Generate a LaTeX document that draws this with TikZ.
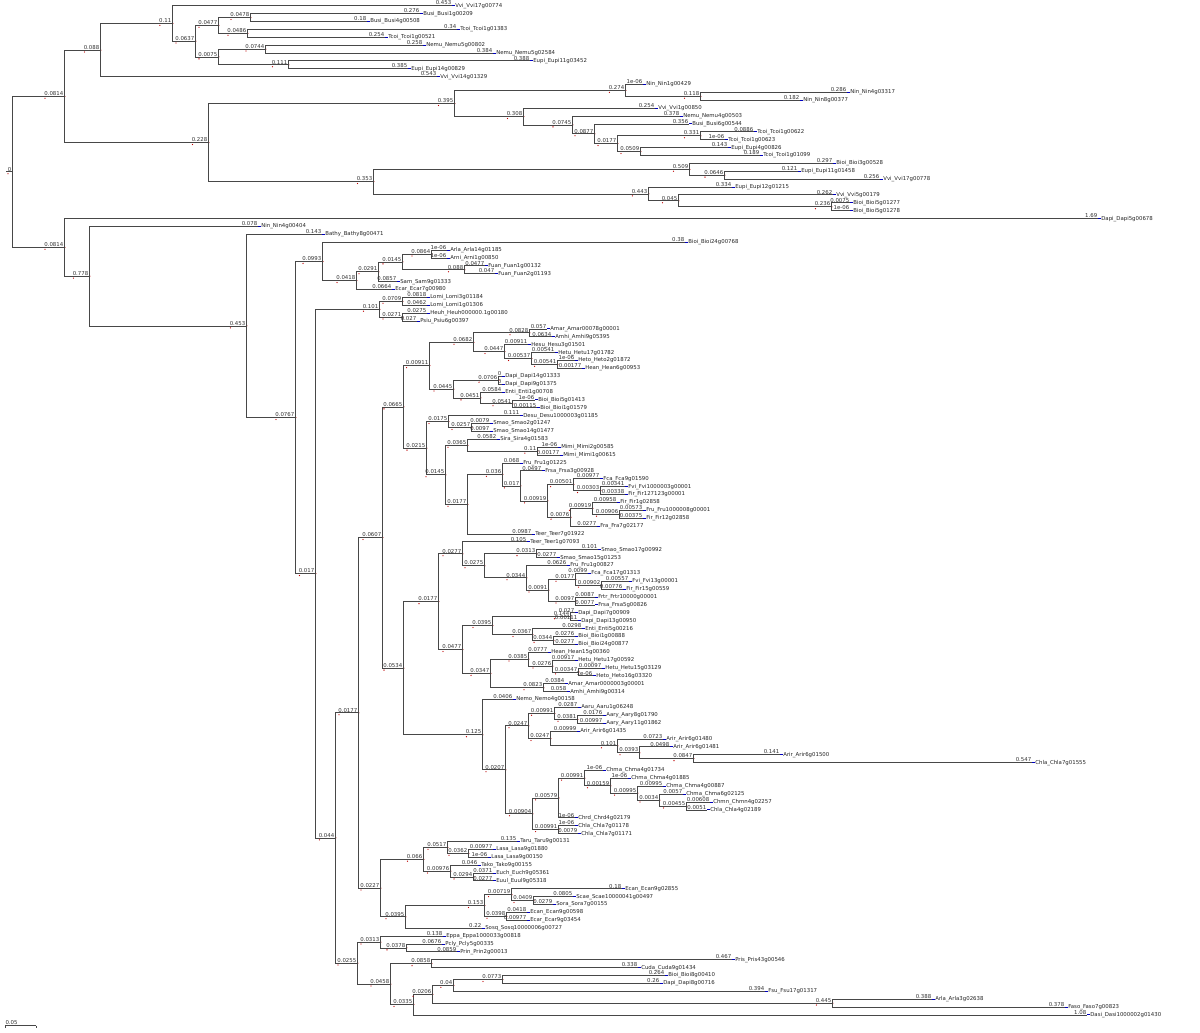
\documentclass[tikz,border=0pt]{standalone}
\usepackage{fontspec}
\newfontfamily\treefont{DejaVu Sans}
\usepackage{tikz}

\tikzset{
  br/.style={draw=black!72, line width=0.9pt},
  val/.style={anchor=south east, inner sep=0.3pt, text=black!80, font=\treefont\fontsize{5.4}{6}\selectfont},
  taxon/.style={anchor=west, inner sep=0.3pt, text=black!85, font=\treefont\fontsize{5.4}{6}\selectfont},
  redtick/.style={fill=red!75!black},
  bluetick/.style={draw=blue!75!black, line width=1pt},
}

% inner node: name, parent, x, row, support
\newcommand\clade[5]{%
  \coordinate (#1) at (#3,#4);
  \draw[br] (#2) |- (#1) node[val] (#1l) {#5};
  \fill[redtick] ([xshift=1.4pt,yshift=-1.9pt]#1l.south west) circle (0.65pt);
  \fill[redtick] ([xshift=0.9pt]#1) circle (0.6pt);
}
% tip: name, parent, x, row, length, taxon
\newcommand\leaf[6]{%
  \coordinate (#1) at (#3,#4);
  \draw[br] (#2) |- (#1) node[val] (#1l) {#5};
  \draw[bluetick] (#1) -- ++(2.5pt,0) node[taxon] (#1t) {#6};
}

\begin{document}
\begin{tikzpicture}[x=1pt, y=-7.885pt]
\fill[white] (0,-0.7229) rectangle (1200,130.16);
\useasboundingbox (0,-0.7229) rectangle (1200,130.16);

% root
\coordinate (rootin) at (6,21.07);
\coordinate (root) at (12,21.07);
\draw[br] (rootin) -- (root) node[val] (rootl) {0};
\fill[redtick] ([xshift=1pt,yshift=-1.9pt]rootl.south west) circle (0.65pt);

% upper block
\clade{R1}{root}{64}{11.49}{0.0814}
\clade{E}{R1}{100}{5.625}{0.088}
\clade{A}{E}{172}{2.25}{0.11}
\leaf{t0}{A}{452}{0}{0.453}{Vvi\_Vvi17g00774}
\clade{B}{A}{195}{4.5}{0.0637}
\clade{C}{B}{218}{2.5}{0.0477}
\clade{C1}{C}{250}{1.5}{0.0478}
\leaf{t1}{C1}{420}{1}{0.276}{Busi\_Busi1g00209}
\leaf{t2}{C1}{367}{2}{0.18}{Busi\_Busi4g00508}
\clade{C2}{C}{247}{3.5}{0.0486}
\leaf{t3}{C2}{457}{3}{0.34}{Tcoi\_Tcoi1g01383}
\leaf{t4}{C2}{385}{4}{0.254}{Tcoi\_Tcoi1g00521}
\clade{D}{B}{218}{6.5}{0.0075}
\clade{D1}{D}{265}{5.5}{0.0744}
\leaf{t5}{D1}{423}{5}{0.258}{Nemu\_Nemu5g00802}
\leaf{t6}{D1}{493}{6}{0.384}{Nemu\_Nemu5g02584}
\clade{D2}{D}{288}{7.5}{0.111}
\leaf{t7}{D2}{530}{7}{0.388}{Eupi\_Eupi11g03452}
\leaf{t8}{D2}{408}{8}{0.385}{Eupi\_Eupi14g00829}
\leaf{t9}{E}{437}{9}{0.543}{Vvi\_Vvi14g01329}

\clade{F}{R1}{208}{17.36}{0.228}
\clade{S}{F}{454}{12.41}{0.395}
\clade{R}{S}{625}{10.75}{0.274}
\leaf{t10}{R}{643}{10}{1e-06}{Nin\_Nin1g00429}
\clade{Q}{R}{700}{11.5}{0.118}
\leaf{t11}{Q}{847}{11}{0.286}{Nin\_Nin4g03317}
\leaf{t12}{Q}{800}{12}{0.182}{Nin\_Nin8g00377}
\clade{T}{S}{523}{14.06}{0.308}
\leaf{t13}{T}{655}{13}{0.254}{Vvi\_Vvi1g00850}
\clade{U}{T}{572}{15.125}{0.0745}
\leaf{t14}{U}{680}{14}{0.378}{Nemu\_Nemu4g00503}
\clade{V}{U}{594}{16.25}{0.0877}
\leaf{t15}{V}{689}{15}{0.356}{Busi\_Busi6g00544}
\clade{W}{V}{617}{17.5}{0.0177}
\clade{X}{W}{700}{16.5}{0.331}
\leaf{t16}{X}{754}{16}{0.0886}{Tcoi\_Tcoi1g00622}
\leaf{t17}{X}{725}{17}{1e-06}{Tcoi\_Tcoi1g00623}
\clade{Y}{W}{640}{18.5}{0.0509}
\leaf{t18}{Y}{728}{18}{0.143}{Eupi\_Eupi4g00826}
\leaf{t19}{Y}{760}{19}{0.189}{Tcoi\_Tcoi1g01099}
\clade{G}{F}{373}{22.31}{0.353}
\clade{Z}{G}{689}{20.75}{0.509}
\leaf{t20}{Z}{833}{20}{0.297}{Bioi\_Bioi3g00528}
\clade{AA}{Z}{724}{21.5}{0.0646}
\leaf{t21}{AA}{798}{21}{0.121}{Eupi\_Eupi11g01458}
\leaf{t22}{AA}{880}{22}{0.256}{Vvi\_Vvi17g00778}
\clade{AB}{G}{648}{23.875}{0.443}
\leaf{t23}{AB}{732}{23}{0.334}{Eupi\_Eupi12g01215}
\clade{AC}{AB}{678}{24.75}{0.045}
\leaf{t24}{AC}{833}{24}{0.262}{Vvi\_Vvi5g00179}
\clade{AD}{AC}{831}{25.5}{0.236}
\leaf{t25}{AD}{850}{25}{0.0075}{Bioi\_Bioi5g01277}
\leaf{t26}{AD}{850}{26}{1e-06}{Bioi\_Bioi5g01278}

% lower block
\clade{H}{root}{64}{30.65}{0.0814}
\leaf{t27}{H}{1098}{27}{1.69}{Dapi\_Dapi5g00678}
\clade{I}{H}{89}{34.31}{0.778}
\leaf{t28}{I}{258}{28}{0.078}{Nin\_Nin4g00404}
\clade{J}{I}{246}{40.62}{0.453}
\leaf{t29}{J}{322}{29}{0.143}{Bathy\_Bathy8g00471}
\clade{K}{J}{295}{52.23}{0.0767}
\clade{L}{K}{322}{32.44}{0.0993}
\leaf{t30}{L}{685}{30}{0.38}{Bioi\_Bioi24g00768}
\clade{N}{L}{356}{34.875}{0.0418}
\clade{O}{N}{378}{33.75}{0.0291}
\clade{P}{O}{402}{32.5}{0.0145}
\clade{PA}{P}{431}{31.5}{0.0864}
\leaf{t31}{PA}{447}{31}{1e-06}{Arla\_Arla14g01185}
\leaf{t32}{PA}{447}{32}{1e-06}{Arni\_Arni1g00850}
\clade{PB}{P}{464}{33.5}{0.088}
\leaf{t33}{PB}{485}{33}{0.0477}{Fuan\_Fuan1g00132}
\leaf{t34}{PB}{495}{34}{0.047}{Fuan\_Fuan2g01193}
\leaf{t35}{O}{397}{35}{0.0857}{Sam\_Sam9g01333}
\leaf{t36}{N}{392}{36}{0.0664}{Ecar\_Ecar7g00980}
\clade{M}{K}{315}{72.03}{0.017}
\clade{MA}{M}{379}{38.5}{0.101}
\clade{MA1}{MA}{402}{37.5}{0.0709}
\leaf{t37}{MA1}{427}{37}{0.0818}{Lomi\_Lomi3g01184}
\leaf{t38}{MA1}{427}{38}{0.0462}{Lomi\_Lomi1g01306}
\clade{MA2}{MA}{402}{39.5}{0.0271}
\leaf{t39}{MA2}{427}{39}{0.0275}{Heuh\_Heuh000000.1g00180}
\leaf{t40}{MA2}{417}{40}{0.027}{Psiu\_Psiu6g00397}
\clade{MB}{M}{335}{105.55}{0.044}
\clade{MBa}{MB}{358}{89.68}{0.0177}
\clade{Y1}{MBa}{382}{67.46}{0.0607}
\clade{X1}{Y1}{403}{50.89}{0.0665}
\clade{X1a}{X1}{429}{45.66}{0.00911}
\clade{a1}{X1a}{473}{42.69}{0.0682}
\clade{a11}{a1}{529}{41.5}{0.0828}
\leaf{t41}{a11}{547}{41}{0.057}{Amar\_Amar00078g00001}
\leaf{t42}{a11}{552}{42}{0.0634}{Amhi\_Amhi9g05395}
\clade{a12}{a1}{504}{43.875}{0.0447}
\leaf{t43}{a12}{528}{43}{0.00911}{Hesu\_Hesu3g01501}
\clade{a13}{a12}{531}{44.75}{0.00537}
\leaf{t44}{a13}{555}{44}{0.00541}{Hetu\_Hetu17g01782}
\clade{a14}{a13}{557}{45.5}{0.00541}
\leaf{t45}{a14}{575}{45}{1e-06}{Heto\_Heto2g01872}
\leaf{t46}{a14}{582}{46}{0.00177}{Hean\_Hean6g00953}
\clade{a2}{X1a}{453}{48.625}{0.0445}
\clade{a21}{a2}{498}{47.5}{0.0706}
\leaf{t47}{a21}{502}{47}{0}{Dapi\_Dapi14g01333}
\leaf{t48}{a21}{502}{48}{0}{Dapi\_Dapi9g01375}
\clade{a22}{a2}{480}{49.75}{0.0451}
\leaf{t49}{a22}{502}{49}{0.0584}{Enti\_Enti1g00708}
\clade{a23}{a22}{512}{50.5}{0.0541}
\leaf{t50}{a23}{535}{50}{1e-06}{Bioi\_Bioi5g01413}
\leaf{t51}{a23}{537}{51}{0.00115}{Bioi\_Bioi1g01579}
\clade{X1b}{X1}{426}{56.12}{0.0215}
\clade{b1}{X1b}{448}{52.75}{0.0175}
\leaf{t52}{b1}{520}{52}{0.111}{Desu\_Desu1000003g01185}
\clade{b11}{b1}{471}{53.5}{0.0257}
\leaf{t53}{b11}{490}{53}{0.0079}{Smao\_Smao2g01247}
\leaf{t54}{b11}{490}{54}{0.0097}{Smao\_Smao14g01477}
\clade{b2}{X1b}{445}{59.49}{0.0145}
\clade{b21}{b2}{467}{55.75}{0.0365}
\leaf{t55}{b21}{497}{55}{0.0582}{Sira\_Sira4g01583}
\clade{b22}{b21}{537}{56.5}{0.11}
\leaf{t56}{b22}{558}{56}{1e-06}{Mimi\_Mimi2g00585}
\leaf{t57}{b22}{560}{57}{0.00177}{Mimi\_Mimi1g00615}
\clade{b3}{b2}{467}{63.23}{0.0177}
\clade{b31}{b3}{502}{59.45}{0.036}
\leaf{t58}{b31}{520}{58}{0.068}{Fru\_Fru1g01225}
\clade{b32}{b31}{520}{60.91}{0.017}
\leaf{t59}{b32}{542}{59}{0.0497}{Frsa\_Frsa3g00928}
\clade{b33}{b32}{547}{62.81}{0.00919}
\clade{b34}{b33}{573}{60.75}{0.00501}
\leaf{t60}{b34}{600}{60}{0.00977}{Fca\_Fca9g01590}
\clade{b35}{b34}{600}{61.5}{0.00303}
\leaf{t61}{b35}{625}{61}{0.00341}{Fvi\_Fvi1000003g00001}
\leaf{t62}{b35}{625}{62}{0.00338}{Fir\_Fir127123g00001}
\clade{b36}{b33}{570}{64.875}{0.0076}
\clade{b37}{b36}{592}{63.75}{0.00919}
\leaf{t63}{b37}{617}{63}{0.00958}{Fir\_Fir1g02858}
\clade{b38}{b37}{619}{64.5}{0.00906}
\leaf{t64}{b38}{643}{64}{0.00573}{Fru\_Fru1000008g00001}
\leaf{t65}{b38}{643}{65}{0.00375}{Fir\_Fir12g02858}
\leaf{t66}{b36}{597}{66}{0.0277}{Fra\_Fra7g02177}
\leaf{t67}{b3}{532}{67}{0.0987}{Teer\_Teer7g01922}
\clade{X2}{Y1}{403}{84.02}{0.0534}
\clade{X2a}{X2}{438}{75.59}{0.0177}
\clade{c1}{X2a}{462}{69.52}{0.0277}
\leaf{t68}{c1}{527}{68}{0.105}{Teer\_Teer1g07093}
\clade{c11}{c1}{484}{71.03}{0.0275}
\clade{c12}{c11}{536}{69.5}{0.0313}
\leaf{t69}{c12}{598}{69}{0.101}{Smao\_Smao17g00992}
\leaf{t70}{c12}{557}{70}{0.0277}{Smao\_Smao15g01253}
\clade{c13}{c11}{526}{72.56}{0.0344}
\leaf{t71}{c13}{567}{71}{0.0626}{Fru\_Fru1g00827}
\clade{c14}{c13}{548}{74.125}{0.0091}
\clade{c15}{c14}{575}{72.75}{0.0177}
\leaf{t72}{c15}{588}{72}{0.0099}{Fca\_Fca17g01313}
\clade{c16}{c15}{601}{73.5}{0.00902}
\leaf{t73}{c16}{629}{73}{0.00557}{Fvi\_Fvi13g00001}
\leaf{t74}{c16}{623}{74}{0.00776}{Fir\_Fir15g00559}
\clade{c17}{c14}{575}{75.5}{0.0097}
\leaf{t75}{c17}{595}{75}{0.0087}{Frtr\_Frtr10000g00001}
\leaf{t76}{c17}{595}{76}{0.0077}{Frsa\_Frsa5g00826}
\clade{c2}{X2a}{462}{81.66}{0.0477}
\clade{c21}{c2}{492}{78.625}{0.0395}
\clade{c22}{c21}{570}{77.5}{0.144}
\leaf{t77}{c22}{575}{77}{0.027}{Dapi\_Dapi7g00909}
\leaf{t78}{c22}{578}{78}{0.00111}{Dapi\_Dapi13g00950}
\clade{c23}{c21}{532}{79.75}{0.0367}
\leaf{t79}{c23}{582}{79}{0.0298}{Enti\_Enti5g00216}
\clade{c24}{c23}{553}{80.5}{0.0344}
\leaf{t80}{c24}{575}{80}{0.0276}{Bioi\_Bioi1g00888}
\leaf{t81}{c24}{575}{81}{0.0277}{Bioi\_Bioi24g00877}
\clade{c25}{c2}{490}{84.69}{0.0347}
\clade{c26}{c25}{528}{82.875}{0.0385}
\leaf{t82}{c26}{548}{82}{0.0777}{Hean\_Hean15g00360}
\clade{c27}{c26}{552}{83.75}{0.0276}
\leaf{t83}{c27}{575}{83}{0.00917}{Hetu\_Hetu17g00592}
\clade{c28}{c27}{578}{84.5}{0.00347}
\leaf{t84}{c28}{602}{84}{0.00097}{Hetu\_Hetu15g03129}
\leaf{t85}{c28}{593}{85}{1e-06}{Heto\_Heto16g03320}
\clade{c29}{c25}{543}{86.5}{0.0823}
\leaf{t86}{c29}{565}{86}{0.0384}{Amar\_Amar0000003g00001}
\leaf{t87}{c29}{567}{87}{0.058}{Amhi\_Amhi9g00314}
\clade{X2b}{X2}{482}{92.46}{0.125}
\leaf{t88}{X2b}{513}{88}{0.0406}{Nemo\_Nemo4g00158}
\clade{d1}{X2b}{505}{96.92}{0.0207}
\clade{P1}{d1}{528}{91.34}{0.0247}
\clade{d11}{P1}{554}{89.75}{0.00991}
\leaf{t89}{d11}{578}{89}{0.0287}{Aaru\_Aaru1g06248}
\clade{d12}{d11}{577}{90.5}{0.0381}
\leaf{t90}{d12}{603}{90}{0.0176}{Aary\_Aary8g01790}
\leaf{t91}{d12}{603}{91}{0.00997}{Aary\_Aary11g01862}
\clade{d13}{P1}{550}{92.94}{0.0247}
\leaf{t92}{d13}{577}{92}{0.00999}{Arir\_Arir6g01435}
\clade{d14}{d13}{617}{93.875}{0.101}
\leaf{t93}{d14}{663}{93}{0.0723}{Arir\_Arir6g01480}
\clade{d15}{d14}{639}{94.75}{0.0393}
\leaf{t94}{d15}{670}{94}{0.0498}{Arir\_Arir6g01481}
\clade{d16}{d15}{693}{95.5}{0.0847}
\leaf{t95}{d16}{780}{95}{0.141}{Arir\_Arir6g01500}
\leaf{t96}{d16}{1032}{96}{0.547}{Chla\_Chla7g01555}
\clade{P2}{d1}{532}{102.49}{0.00904}
\clade{d21}{P2}{558}{100.48}{0.00579}
\clade{d22}{d21}{584}{97.97}{0.00991}
\leaf{t97}{d22}{603}{97}{1e-06}{Chma\_Chma4g01734}
\clade{d23}{d22}{610}{98.94}{0.00159}
\leaf{t98}{d23}{628}{98}{1e-06}{Chma\_Chma4g01885}
\clade{d24}{d23}{637}{99.875}{0.00995}
\leaf{t99}{d24}{663}{99}{0.00995}{Chma\_Chma4g00887}
\clade{d25}{d24}{659}{100.75}{0.0034}
\leaf{t100}{d25}{683}{100}{0.0057}{Chma\_Chma6g02125}
\clade{d26}{d25}{686}{101.5}{0.00455}
\leaf{t101}{d26}{710}{101}{0.00608}{Chmn\_Chmn4g02257}
\leaf{t102}{d26}{707}{102}{0.0051}{Chla\_Chla4g02189}
\leaf{t103}{d21}{575}{103}{1e-06}{Chrd\_Chrd4g02179}
\clade{d27}{P2}{558}{104.5}{0.00991}
\leaf{t104}{d27}{575}{104}{1e-06}{Chla\_Chla7g01178}
\leaf{t105}{d27}{578}{105}{0.0079}{Chla\_Chla7g01171}
\clade{Y2}{MBa}{380}{111.9}{0.0227}
\clade{e1}{Y2}{423}{108.25}{0.066}
\clade{e11}{e1}{447}{106.75}{0.0517}
\leaf{t106}{e11}{517}{106}{0.135}{Taru\_Taru9g00131}
\clade{e12}{e11}{468}{107.5}{0.0362}
\leaf{t107}{e12}{493}{107}{0.00977}{Lasa\_Lasa9g01880}
\leaf{t108}{e12}{488}{108}{1e-06}{Lasa\_Lasa9g00150}
\clade{e13}{e1}{450}{109.75}{0.00976}
\leaf{t109}{e13}{478}{109}{0.046}{Tako\_Tako9g00155}
\clade{e14}{e13}{473}{110.5}{0.0294}
\leaf{t110}{e14}{493}{110}{0.0371}{Euch\_Euch9g05361}
\leaf{t111}{e14}{493}{111}{0.0277}{Euul\_Euul9g05318}
\clade{e2}{Y2}{405}{115.56}{0.0395}
\clade{e21}{e2}{484}{114.125}{0.153}
\clade{e22}{e21}{511}{112.75}{0.00719}
\leaf{t112}{e22}{622}{112}{0.18}{Ecan\_Ecan9g02855}
\clade{e23}{e22}{533}{113.5}{0.0409}
\leaf{t113}{e23}{573}{113}{0.0805}{Scae\_Scae10000041g00497}
\leaf{t114}{e23}{553}{114}{0.0279}{Sora\_Sora7g00155}
\clade{e24}{e21}{506}{115.5}{0.0398}
\leaf{t115}{e24}{527}{115}{0.0418}{Ecan\_Ecan9g00598}
\leaf{t116}{e24}{527}{116}{0.00977}{Ecar\_Ecar9g03454}
\leaf{t117}{e2}{482}{117}{0.22}{Sosq\_Sosq10000006g00727}
\clade{MBb}{MB}{357}{121.42}{0.0255}
\clade{f1}{MBb}{380}{118.75}{0.0313}
\leaf{t118}{f1}{443}{118}{0.138}{Eppa\_Eppa1000033g00818}
\clade{f11}{f1}{406}{119.5}{0.0378}
\leaf{t119}{f11}{442}{119}{0.0676}{Pcly\_Pcly5g00335}
\leaf{t120}{f11}{457}{120}{0.0859}{Prin\_Prin2g00013}
\clade{Z1}{MBb}{390}{124.09}{0.0458}
\clade{Z2}{Z1}{431}{121.5}{0.0858}
\leaf{t121}{Z2}{732}{121}{0.467}{Pris\_Pris43g00546}
\leaf{t122}{Z2}{638}{122}{0.338}{Cuda\_Cuda9g01434}
\clade{Z3}{Z1}{413}{126.69}{0.0335}
\clade{Z4}{Z3}{432}{125.375}{0.0206}
\clade{Z5}{Z4}{453}{124.25}{0.04}
\clade{Z7}{Z5}{502}{123.5}{0.0773}
\leaf{t123}{Z7}{665}{123}{0.264}{Bioi\_Bioi8g00410}
\leaf{t124}{Z7}{660}{124}{0.26}{Dapi\_Dapi8g00716}
\leaf{t125}{Z5}{765}{125}{0.394}{Fsu\_Fsu17g01317}
\clade{Z6}{Z4}{832}{126.5}{0.445}
\leaf{t126}{Z6}{932}{126}{0.388}{Arla\_Arla3g02638}
\leaf{t127}{Z6}{1065}{127}{0.378}{Faso\_Faso7g00823}
\leaf{t128}{Z3}{1087}{128}{1.08}{Dasi\_Dasi1000002g01430}

% scale bar
\coordinate (sbl) at (5,129.35);
\coordinate (sbr) at (36,129.35);
\draw[br, line width=0.6pt] (sbl) -- (sbr);
\draw[br, line width=0.6pt] (sbl) -- ++(0,-2.2pt);
\draw[br, line width=0.6pt] (sbr) -- ++(0,-2.2pt);
\node[val, anchor=south west] (sblab) at ([yshift=0.6pt]sbl) {0.05};
\end{tikzpicture}
\end{document}
